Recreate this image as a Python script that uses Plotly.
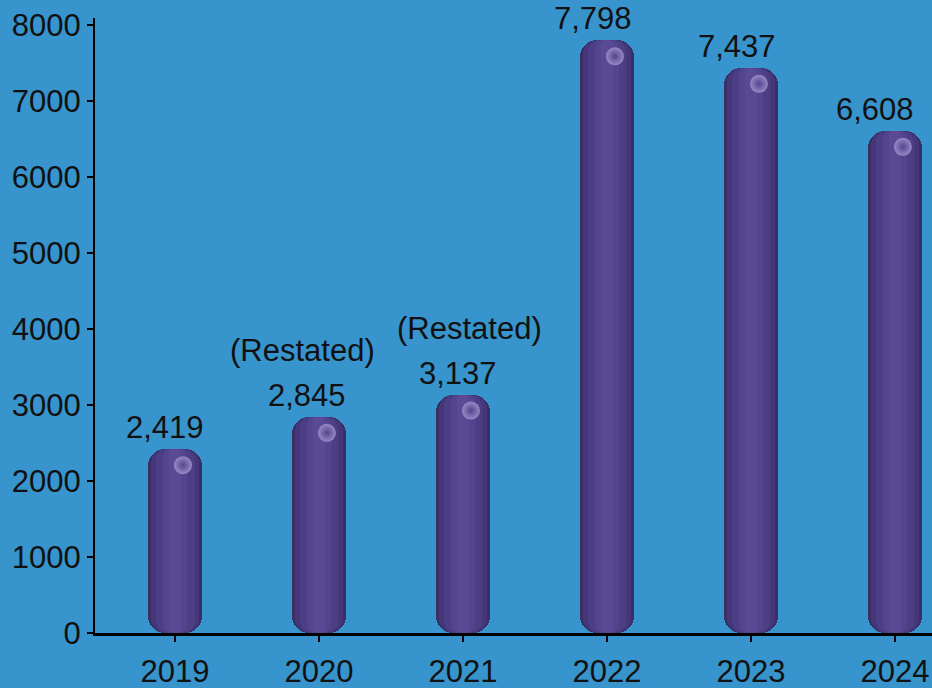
import plotly.graph_objects as go

# Annual figures shown as rounded purple columns
years = ["2019", "2020", "2021", "2022", "2023", "2024"]
values = [2419, 2845, 3137, 7798, 7437, 6608]
value_labels = ["2,419", "2,845", "3,137", "7,798", "7,437", "6,608"]
notes = ["", "(Restated)", "(Restated)", "", "", ""]

y_ticks = [0, 1000, 2000, 3000, 4000, 5000, 6000, 7000, 8000]

BG = "#3794cd"
FONT = "Liberation Sans, Arial, sans-serif"
X_RANGE = [-0.556, 5.257]
Y_RANGE = [0, 8092]

fig = go.Figure()

# Column body built from nested overlaid bars: dark rim, lighter core.
# Each layer is made of two overlapping pieces: one growing upward
# (rounded top) and one growing downward to zero (rounded bottom).
layers = [
    (0.37, "#3b2e64", 17),
    (0.33, "#45387a", 15),
    (0.27, "#4d3f86", 13),
    (0.17, "#53458f", 9),
    (0.08, "#584a94", 5),
]
lower = [v * 0.3 for v in values]
upper = [v * 0.7 for v in values]
for width, color, radius in layers:
    fig.add_trace(go.Bar(
        x=years, y=[v - b for v, b in zip(values, lower)], base=lower,
        width=width, marker=dict(color=color, line=dict(width=0), cornerradius=radius),
        hoverinfo="skip", showlegend=False,
    ))
    fig.add_trace(go.Bar(
        x=years, y=[-u for u in upper], base=upper,
        width=width, marker=dict(color=color, line=dict(width=0), cornerradius=radius),
        hoverinfo="skip", showlegend=False,
    ))

# Soft specular spot just under the top of each column, drawn on a hidden
# linear x axis that shares the category positions.
cap_drop = 0.026 * (Y_RANGE[1] - Y_RANGE[0])
fig.add_trace(go.Scatter(
    x=[i + 0.055 for i in range(len(values))],
    y=[v - cap_drop for v in values],
    xaxis="x2", mode="markers",
    marker=dict(size=18, color="#a090cc", line=dict(width=0), opacity=0.9,
                gradient=dict(type="radial", color="#53458f")),
    hoverinfo="skip", showlegend=False,
))

# horizontal nudges (px) for the value labels; the last one is kept inside the page
value_dx = [-10, -12, -5, -14, -14, -20]
note_dx = [0, -17, 6, 0, 0, 0]

annotations = []
for i, (v, lab, note) in enumerate(zip(values, value_labels, notes)):
    annotations.append(dict(
        x=i, y=v, xref="x", yref="y", text=lab, showarrow=False,
        font=dict(size=31, color="#111111", family=FONT),
        yanchor="bottom", yshift=2, xshift=value_dx[i],
    ))
    if note:
        annotations.append(dict(
            x=i, y=v, xref="x", yref="y", text=note, showarrow=False,
            font=dict(size=31, color="#111111", family=FONT),
            yanchor="bottom", yshift=47, xshift=note_dx[i],
        ))

fig.update_layout(
    width=932, height=688,
    margin=dict(l=95, r=0, t=18, b=55),
    paper_bgcolor=BG, plot_bgcolor=BG,
    barmode="overlay", bargap=0,
    font=dict(family=FONT, size=31, color="#111111"),
    annotations=annotations,
    xaxis=dict(
        type="category", range=X_RANGE, automargin=False,
        showgrid=False, zeroline=False,
        showline=True, linecolor="#000000", linewidth=3,
        ticks="outside", ticklen=6, tickwidth=1.5, tickcolor="#000000",
        tickfont=dict(size=31, color="#111111"), ticklabelstandoff=3,
    ),
    xaxis2=dict(
        type="linear", range=X_RANGE, overlaying="x", visible=False,
    ),
    yaxis=dict(
        range=Y_RANGE, tickvals=y_ticks, automargin=False,
        showgrid=False, zeroline=False,
        showline=True, linecolor="#000000", linewidth=2,
        ticks="outside", ticklen=6, tickwidth=1.5, tickcolor="#000000",
        tickfont=dict(size=31, color="#111111"),
    ),
)

fig.write_html("out.html")
